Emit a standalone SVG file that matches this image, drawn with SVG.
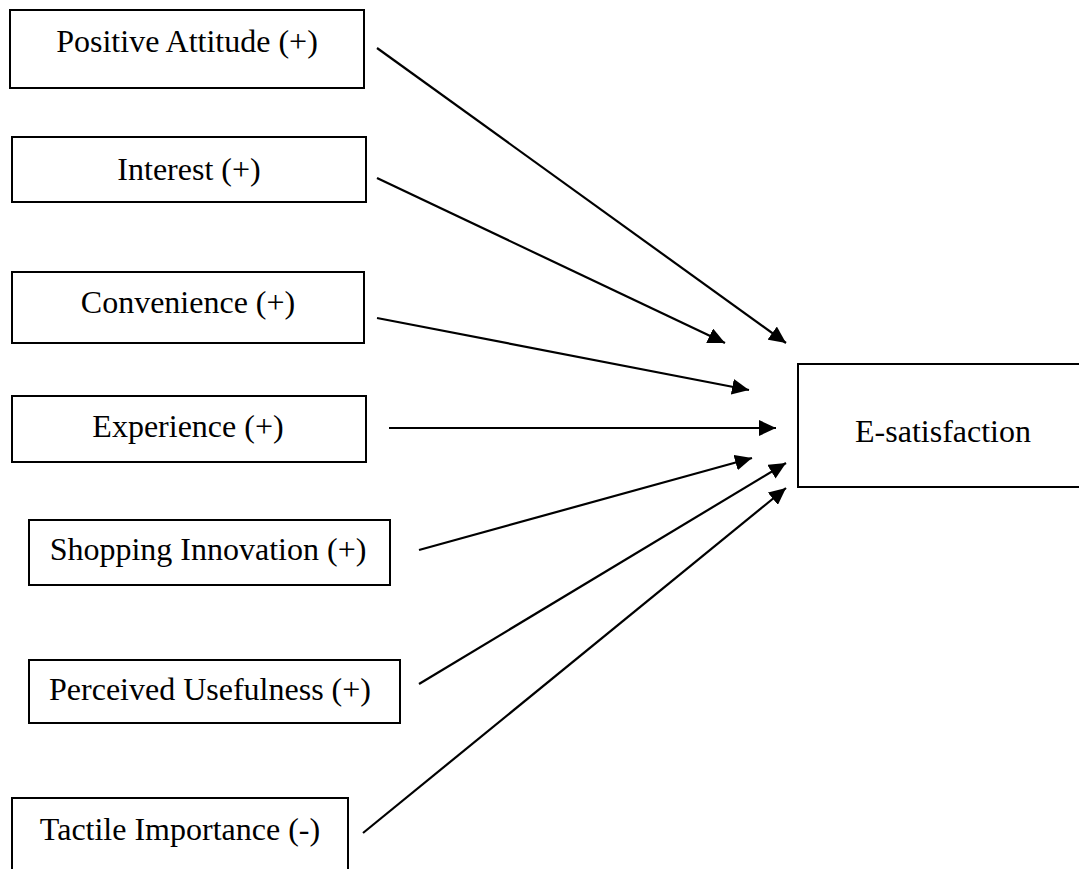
<svg xmlns="http://www.w3.org/2000/svg" width="1079" height="869" viewBox="0 0 1079 869">
<style>
.box{fill:#fff;stroke:#000;stroke-width:2}
.lbl{font-family:"Liberation Serif","Times New Roman",serif;font-size:32px;fill:#000;text-anchor:middle}
.con{stroke:#000;stroke-width:2.2;fill:none;marker-end:url(#ah)}
</style>
<defs>
<marker id="ah" markerUnits="userSpaceOnUse" markerWidth="19" markerHeight="16" refX="17" refY="8" orient="auto">
<path d="M0,0 L17,8 L0,16 Z" fill="#000"/>
</marker>
</defs>
<rect width="1079" height="869" fill="#fff"/>
<g id="n1"><rect class="box" x="10" y="10" width="354" height="78"/><text class="lbl" x="187" y="52">Positive Attitude (+)</text></g>
<g id="n2"><rect class="box" x="12" y="137" width="354" height="65"/><text class="lbl" x="189" y="180">Interest (+)</text></g>
<g id="n3"><rect class="box" x="12" y="272" width="352" height="71"/><text class="lbl" x="188" y="313">Convenience (+)</text></g>
<g id="n4"><rect class="box" x="12" y="396" width="354" height="66"/><text class="lbl" x="188" y="437">Experience (+)</text></g>
<g id="n5"><rect class="box" x="29" y="520" width="361" height="65"/><text class="lbl" x="208" y="560">Shopping Innovation (+)</text></g>
<g id="n6"><rect class="box" x="29" y="660" width="371" height="63"/><text class="lbl" x="210" y="700">Perceived Usefulness (+)</text></g>
<g id="n7"><rect class="box" x="12" y="798" width="336" height="90"/><text class="lbl" x="180" y="840">Tactile Importance (-)</text></g>
<g id="n8"><rect class="box" x="798" y="364" width="300" height="123"/><text class="lbl" x="943" y="442">E-satisfaction</text></g>
<g id="connectors">
<line class="con" x1="377" y1="48" x2="786" y2="343"/>
<line class="con" x1="377" y1="178" x2="725" y2="343"/>
<line class="con" x1="377" y1="318" x2="749" y2="390"/>
<line class="con" x1="389" y1="428" x2="776" y2="428"/>
<line class="con" x1="419" y1="550" x2="752" y2="458"/>
<line class="con" x1="419" y1="684" x2="786" y2="463"/>
<line class="con" x1="363" y1="833" x2="786" y2="488"/>
</g>
</svg>
